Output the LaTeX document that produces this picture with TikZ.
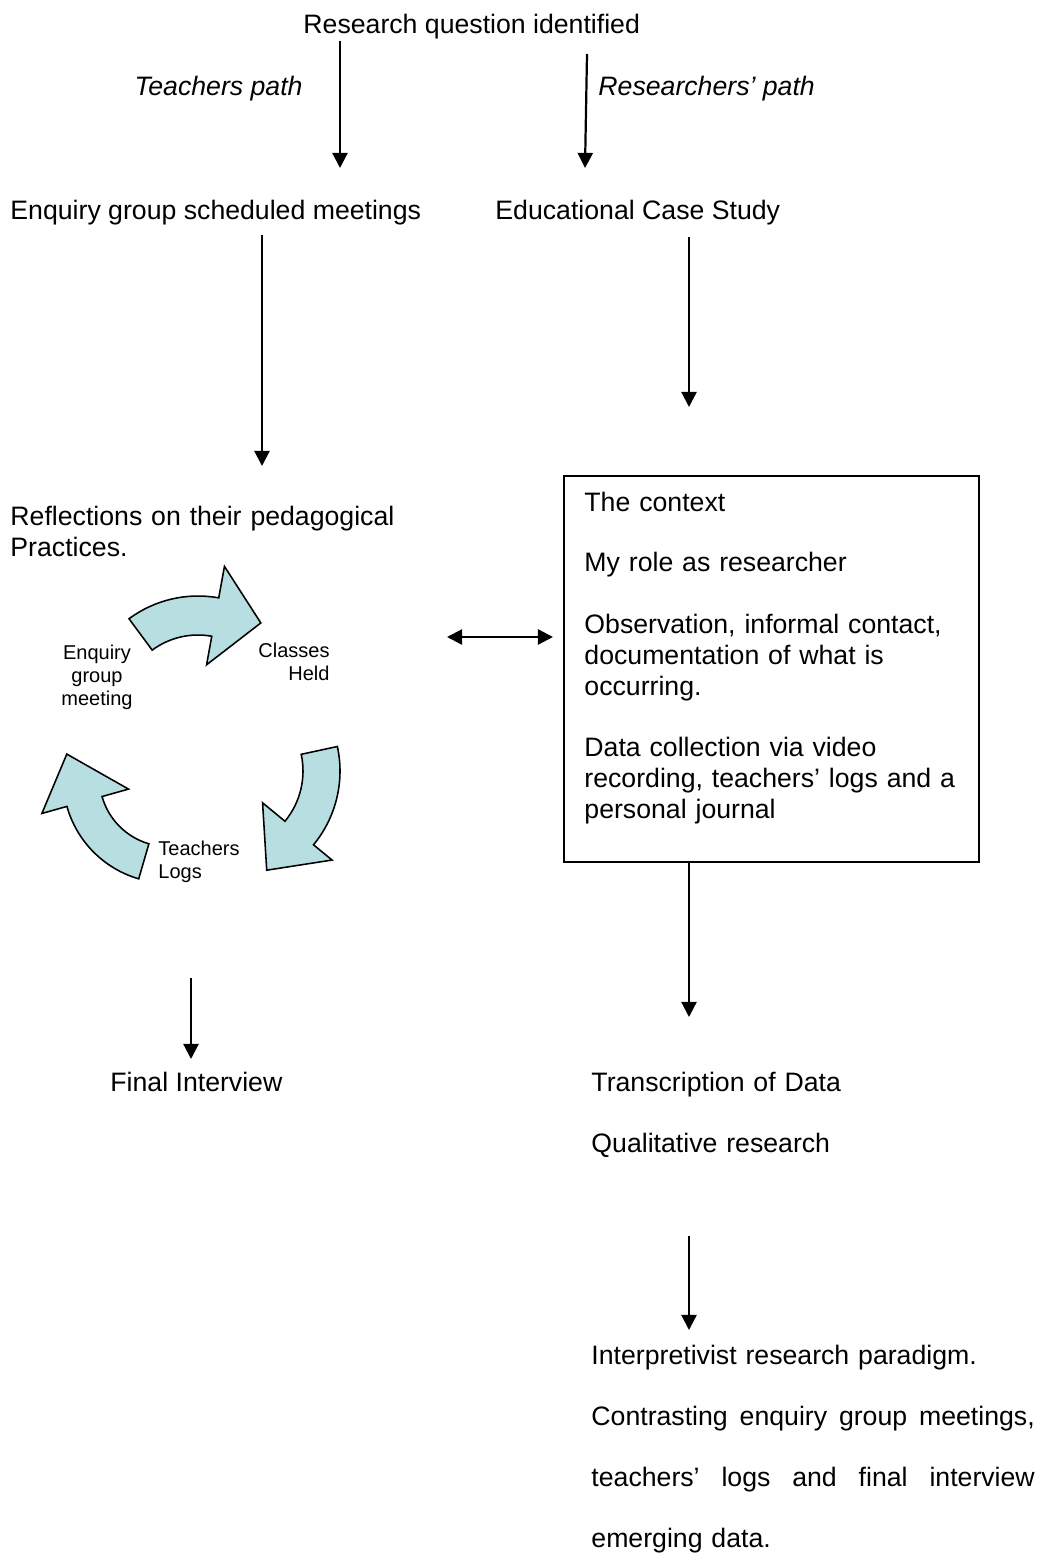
\documentclass[tikz,border=0pt]{standalone}
\usepackage{fontspec}
\setmainfont{Liberation Sans}
\usetikzlibrary{arrows.meta}
\definecolor{cyclefill}{HTML}{B7DEE0}

% one curved block arrow of the cycle, drawn round its own centre:
% #1 centre, #2 tail angle, #3 head-base angle, #4 tip angle,
% #5 outer radius, #6 inner radius, #7 head outer radius, #8 head inner radius, #9 tip radius
\newcommand{\cyclearrow}[9]{%
  \begin{scope}[shift={#1}]
  \draw[cyclearrowstyle]
    (#2:#5) arc[start angle=#2, end angle=#3, radius=#5]
    -- (#3:#7) -- (#4:#9) -- (#3:#8) -- (#3:#6)
    arc[start angle=#3, end angle=#2, radius=#6] -- cycle;
  \end{scope}}

% a line spread out to a fixed width
\newcommand{\spreadline}[1]{\leavevmode\hbox to 199.5pt{#1}}

\begin{document}
\begin{tikzpicture}[x=0.45pt, y=0.45pt,
  txt/.style={anchor=base west, inner sep=0pt, font=\fontsize{12}{13.95}\selectfont},
  itxt/.style={txt, font=\fontsize{12}{13.95}\selectfont\itshape},
  para/.style={txt, text width=190pt, align=left},
  small/.style={inner sep=0pt, font=\fontsize{9}{10.4}\selectfont},
  flow/.style={line width=1pt, -{Triangle[length=6.8pt,width=6.8pt]}},
  twoway/.style={line width=1pt, {Triangle[length=6.8pt,width=6.8pt]}-{Triangle[length=6.8pt,width=6.8pt]}},
  frame/.style={draw, line width=0.7pt, inner sep=0pt, anchor=north west},
  cyclearrowstyle/.style={draw=black, line width=0.7pt, fill=cyclefill, line join=miter}
]
\fill[white] (0,0) rectangle (1045,-1553);
\useasboundingbox (0,0) rectangle (1045,-1553);

% ---- top of the two paths
\node[txt] (rq) at (303,-34) {Research question identified};
\node[itxt, anchor=base east] (tpath) at (303,-96) {Teachers path};
\node[itxt] (rpath) at (598,-96) {Researchers’ path};
\node[txt] (egm) at (10,-220) {Enquiry group scheduled meetings};
\node[txt] (ecs) at (495,-220) {Educational Case Study};

\coordinate (a1s) at (340,-41);  \coordinate (a1e) at (340,-168);
\coordinate (a2s) at (587,-54);  \coordinate (a2e) at (585,-168);
\draw[flow] (a1s) -- (a1e);
\draw[flow] (a2s) -- (a2e);

\coordinate (a3s) at (262,-235); \coordinate (a3e) at (262,-466);
\coordinate (a4s) at (689,-237); \coordinate (a4e) at (689,-407);
\draw[flow] (a3s) -- (a3e);
\draw[flow] (a4s) -- (a4e);

% ---- teachers' side
\node[para] (refl) at (10,-525) {Reflections on their pedagogical\\Practices.};

\cyclearrow{(198,-712)}{126.5}{79.7}{54.8}{116}{77}{148}{48}{109}
\cyclearrow{(224,-771)}{12.2}{-39.5}{-66.7}{116}{79}{140}{50}{108}
\cyclearrow{(168,-778)}{253.8}{195.7}{166.7}{105}{68.5}{131}{41}{104}

\node[small, anchor=base, text width=60pt, align=center] (cegm) at (97,-659) {Enquiry\\group\\meeting};
\node[small, anchor=base east, text width=40pt, align=right] (ccls) at (330,-657) {Classes\\Held\hspace*{3.2pt}};
\node[small, anchor=base west, text width=50pt, align=left] (clog) at (158,-855) {Teachers\\Logs};

\coordinate (a6s) at (191,-978); \coordinate (a6e) at (191,-1059);
\draw[flow] (a6s) -- (a6e);
\node[txt] (fint) at (110,-1091) {Final Interview};

% ---- researcher's side
\node[frame, minimum width=415*0.45pt, minimum height=386*0.45pt] (ctx) at (563,-475) {};
\node[para] (ctxt) at (584,-511) {The context\\[13.5pt]
  My role as researcher\\[13.5pt]
  Observation, informal contact,\\documentation of what is\\occurring.\\[13.5pt]
  Data collection via video\\recording, teachers’ logs and a\\personal journal};

\coordinate (a5l) at (447,-637); \coordinate (a5r) at (553,-637);
\draw[twoway] (a5l) -- (a5r);

\coordinate (a7s) at (689,-862); \coordinate (a7e) at (689,-1017);
\draw[flow] (a7s) -- (a7e);
\node[para, font=\fontsize{12}{27.5}\selectfont] (trans) at (591,-1091) {Transcription of Data\\Qualitative research};

\coordinate (a8s) at (689,-1236); \coordinate (a8e) at (689,-1330);
\draw[flow] (a8s) -- (a8e);
\node[para, text width=200pt, font=\fontsize{12}{27.5}\selectfont] (interp) at (591,-1364) {%
  Interpretivist research paradigm.\\
  \spreadline{Contrasting\hfill enquiry\hfill group\hfill meetings,}\\
  \spreadline{teachers’\hfill logs\hfill and\hfill final\hfill interview}\\
  emerging data.};
\end{tikzpicture}
\end{document}
